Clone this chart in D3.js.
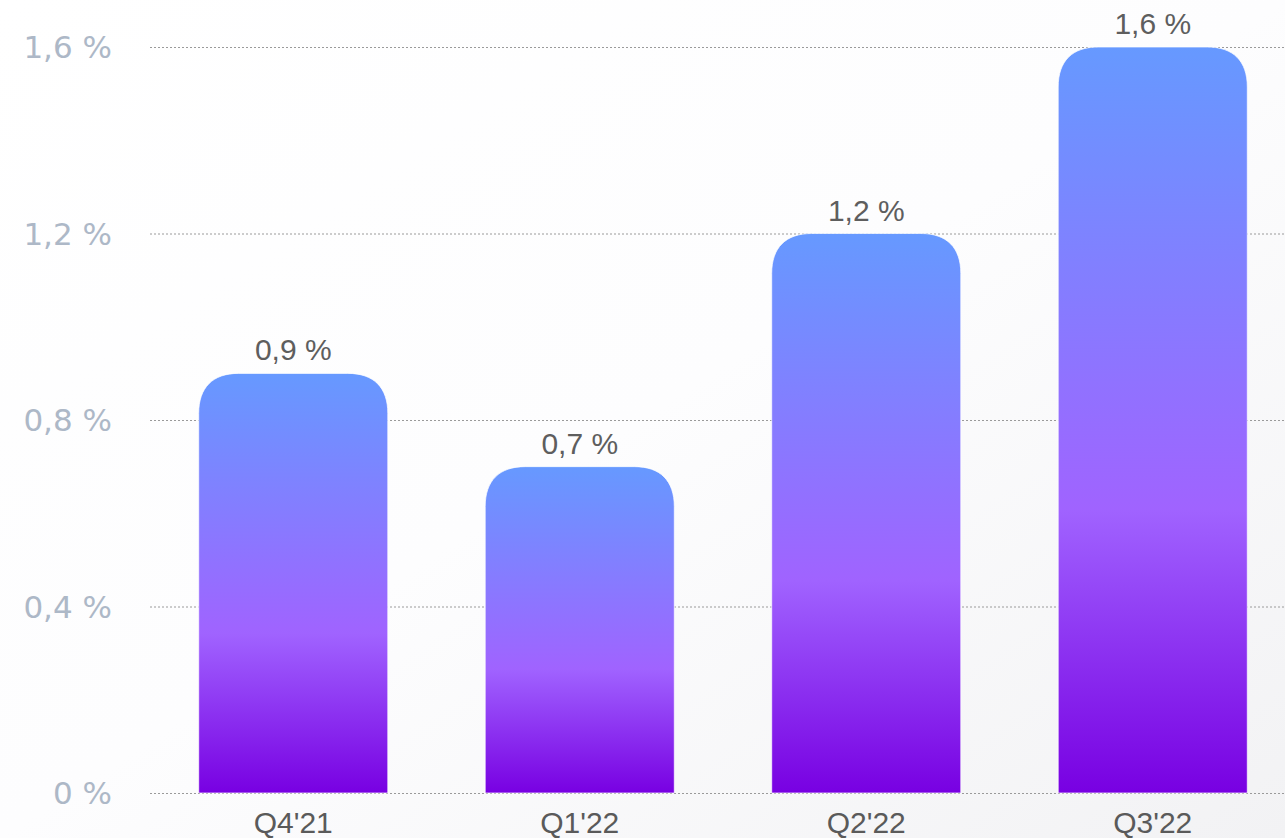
<!DOCTYPE html>
<html>
<head>
<meta charset="utf-8">
<script src="https://cdn.jsdelivr.net/npm/d3@7"></script>
<style>
  html, body { margin: 0; padding: 0; }
  body { width: 1285px; height: 838px; overflow: hidden; }
</style>
</head>
<body>
<svg width="1285" height="838"></svg>
<script>
// data
var quarters = ["Q4'21", "Q1'22", "Q2'22", "Q3'22"];
var rates = [0.9, 0.7, 1.2, 1.6];
var yTicks = [0, 0.4, 0.8, 1.2, 1.6];

var fmt = function(v) { return String(v).replace('.', ',') + ' %'; };

var svg = d3.select('svg');
var width = +svg.attr('width');
var height = +svg.attr('height');

var defs = svg.append('defs');

// faint background wash, white on the left, grey-ish bottom right
var bg = defs.append('linearGradient')
    .attr('id', 'bg')
    .attr('x1', '0').attr('y1', '0').attr('x2', '1').attr('y2', '1');
bg.append('stop').attr('offset', '0%').attr('stop-color', '#ffffff');
bg.append('stop').attr('offset', '50%').attr('stop-color', '#fdfdfe');
bg.append('stop').attr('offset', '100%').attr('stop-color', '#f2f2f4');

var barGrad = defs.append('linearGradient')
    .attr('id', 'barGrad')
    .attr('x1', '0').attr('y1', '0').attr('x2', '0').attr('y2', '1');
barGrad.append('stop').attr('offset', '0%').attr('stop-color', '#6699ff');
barGrad.append('stop').attr('offset', '62%').attr('stop-color', '#a063ff');
barGrad.append('stop').attr('offset', '100%').attr('stop-color', '#7800e2');

svg.append('rect')
    .attr('width', width).attr('height', height)
    .attr('fill', 'url(#bg)');

var x = d3.scaleBand()
    .domain(quarters)
    .range([150, 1296])
    .paddingInner(0.34)
    .paddingOuter(0.17);

var y = d3.scaleLinear()
    .domain([0, 1.6])
    .range([793, 47]);

// grid lines
svg.append('g')
    .selectAll('line')
    .data(yTicks)
    .join('line')
    .attr('x1', 150)
    .attr('x2', width)
    .attr('y1', d => y(d) + 0.5)
    .attr('y2', d => y(d) + 0.5)
    .attr('stroke', '#9a9a9a')
    .attr('stroke-width', 1)
    .attr('stroke-dasharray', '2,2');

// y tick labels
svg.append('g')
    .selectAll('text')
    .data(yTicks)
    .join('text')
    .attr('x', 112)
    .attr('y', d => y(d))
    .attr('dy', '0.36em')
    .attr('text-anchor', 'end')
    .attr('font-family', 'DejaVu Sans, Verdana, sans-serif')
    .attr('font-size', 31)
    .attr('fill', '#adb8c7')
    .text(d => fmt(d));

// rounded top corners, squircle-like
var r = 40;
function barPath(d, i) {
    var x0 = x(quarters[i]);
    var w = x.bandwidth();
    var top = y(d);
    var bottom = y(0);
    var rr = Math.min(r, (bottom - top));
    var k = 0.35;
    return 'M' + x0 + ',' + bottom +
        'L' + x0 + ',' + (top + rr) +
        'C' + x0 + ',' + (top + rr * k) + ' ' + (x0 + rr * k) + ',' + top + ' ' + (x0 + rr) + ',' + top +
        'L' + (x0 + w - rr) + ',' + top +
        'C' + (x0 + w - rr * k) + ',' + top + ' ' + (x0 + w) + ',' + (top + rr * k) + ' ' + (x0 + w) + ',' + (top + rr) +
        'L' + (x0 + w) + ',' + bottom + 'Z';
}

svg.append('g')
    .selectAll('path')
    .data(rates)
    .join('path')
    .attr('d', barPath)
    .attr('fill', 'url(#barGrad)')
    .attr('stroke', 'rgba(255,255,255,0.7)')
    .attr('stroke-width', 1);

// value labels
svg.append('g')
    .selectAll('text')
    .data(rates)
    .join('text')
    .attr('x', (d, i) => x(quarters[i]) + x.bandwidth() / 2)
    .attr('y', d => y(d) - 13)
    .attr('text-anchor', 'middle')
    .attr('font-family', 'Liberation Sans, Arial, sans-serif')
    .attr('font-size', 30)
    .attr('fill', '#5e5e5e')
    .text(d => fmt(d));

// category labels
svg.append('g')
    .selectAll('text')
    .data(quarters)
    .join('text')
    .attr('x', d => x(d) + x.bandwidth() / 2)
    .attr('y', 833)
    .attr('text-anchor', 'middle')
    .attr('font-family', 'Liberation Sans, Arial, sans-serif')
    .attr('font-size', 30)
    .attr('fill', '#5a5a5a')
    .text(d => d);
</script>
</body>
</html>
